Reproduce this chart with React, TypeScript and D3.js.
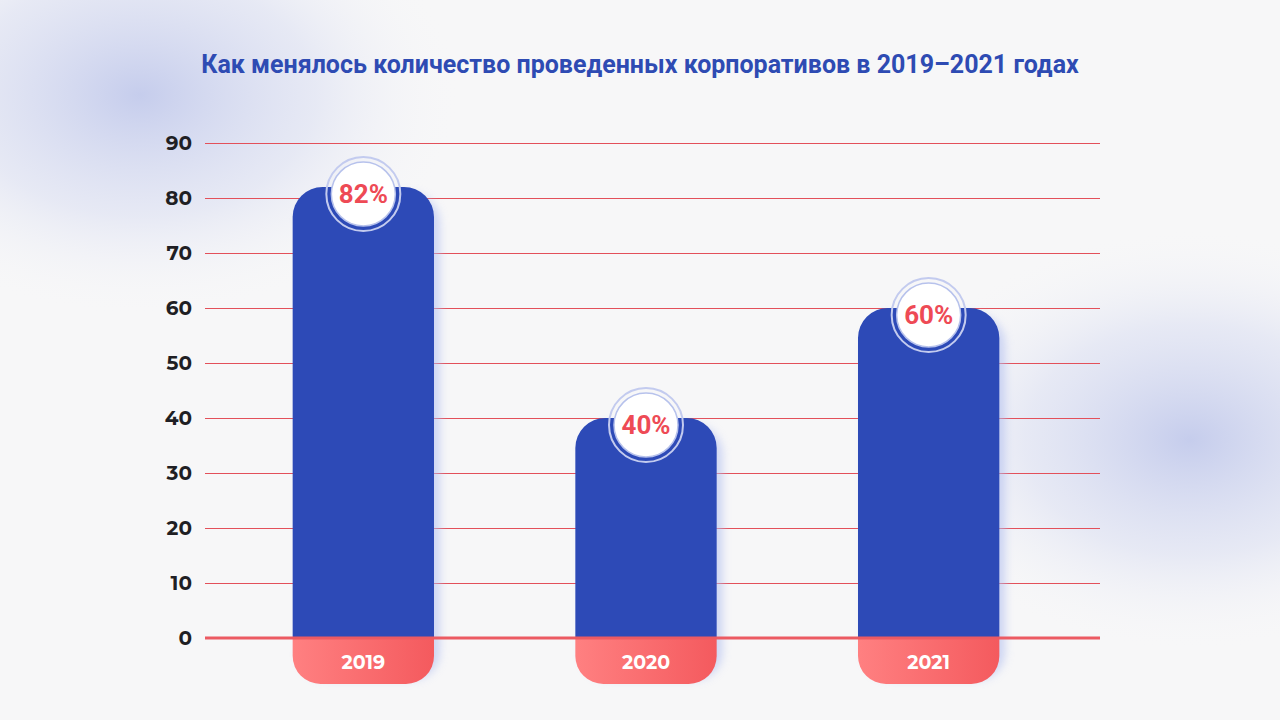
// @ts-nocheck
import React, { useEffect, useRef } from "react";
import * as d3 from "d3";

const years = ["2019", "2020", "2021"];
const values = [82, 40, 60];
const labels = ["82%", "40%", "60%"];
const yTicks = [0, 10, 20, 30, 40, 50, 60, 70, 80, 90];
const title = "Как менялось количество проведенных корпоративов в 2019–2021 годах";

const W = 1280;
const H = 720;

const Chart = () => {
  const svgRef = useRef();

  useEffect(() => {
    const svg = d3.select(svgRef.current);
    svg.selectAll("*").remove();

    const defs = svg.append("defs");

    // soft background blobs
    const blob = defs.append("radialGradient").attr("id", "blob");
    blob.append("stop").attr("offset", "0%").attr("stop-color", "#c0c8eb").attr("stop-opacity", 0.9);
    blob.append("stop").attr("offset", "55%").attr("stop-color", "#d6dbf1").attr("stop-opacity", 0.5);
    blob.append("stop").attr("offset", "100%").attr("stop-color", "#f7f7f8").attr("stop-opacity", 0);

    const pill = defs.append("linearGradient").attr("id", "pill");
    pill.append("stop").attr("offset", "0%").attr("stop-color", "#ff8081");
    pill.append("stop").attr("offset", "100%").attr("stop-color", "#f45a5e");

    const shadow = defs
      .append("filter")
      .attr("id", "shadow")
      .attr("x", "-30%")
      .attr("y", "-30%")
      .attr("width", "160%")
      .attr("height", "160%");
    shadow.append("feGaussianBlur").attr("stdDeviation", 4);

    svg.append("rect").attr("width", W).attr("height", H).attr("fill", "#f7f7f8");
    svg
      .append("ellipse")
      .attr("cx", 140)
      .attr("cy", 95)
      .attr("rx", 320)
      .attr("ry", 220)
      .attr("fill", "url(#blob)");
    svg
      .append("ellipse")
      .attr("cx", 1190)
      .attr("cy", 440)
      .attr("rx", 300)
      .attr("ry", 210)
      .attr("fill", "url(#blob)");

    svg
      .append("text")
      .attr("x", 640)
      .attr("y", 73)
      .attr("text-anchor", "middle")
      .style("font-family", "Roboto, sans-serif")
      .style("font-weight", 700)
      .style("font-size", "25px")
      .style("fill", "#2e4bb3")
      .text(title);

    const left = 205;
    const right = 1100;
    const y = d3.scaleLinear().domain([0, 90]).range([638, 143]);
    const x = d3
      .scaleBand()
      .domain(years)
      .range([222, 1070])
      .paddingInner(0.5)
      .paddingOuter(0.25);

    // gridlines
    svg
      .append("g")
      .selectAll("line")
      .data(yTicks.filter((d) => d > 0))
      .enter()
      .append("line")
      .attr("x1", left)
      .attr("x2", right)
      .attr("y1", (d) => Math.round(y(d)) + 0.5)
      .attr("y2", (d) => Math.round(y(d)) + 0.5)
      .attr("stroke", "#e3505a")
      .attr("stroke-width", 1);

    svg
      .append("g")
      .selectAll("text")
      .data(yTicks)
      .enter()
      .append("text")
      .attr("x", 192)
      .attr("y", (d) => y(d))
      .attr("dy", "0.36em")
      .attr("text-anchor", "end")
      .style("font-family", "Montserrat, 'Open Sans', sans-serif")
      .style("font-weight", 700)
      .style("font-size", "20px")
      .style("fill", "#1f1f24")
      .text((d) => d);

    const data = years.map((yr, i) => ({ yr, v: values[i], label: labels[i] }));
    const bw = x.bandwidth();
    const r = 30;
    const y0 = y(0);
    const pillH = 46;
    const pr = 28;

    const topPath = (x0, top, bottom) =>
      `M${x0},${bottom} V${top + r} A${r},${r} 0 0 1 ${x0 + r},${top} H${x0 + bw - r} A${r},${r} 0 0 1 ${x0 + bw},${top + r} V${bottom}`;
    const barPath = (x0, top) => `${topPath(x0, top, y0)} Z`;
    const pillPath = (x0) =>
      `M${x0},${y0} H${x0 + bw} V${y0 + pillH - pr} A${pr},${pr} 0 0 1 ${x0 + bw - pr},${y0 + pillH} H${x0 + pr} A${pr},${pr} 0 0 1 ${x0},${y0 + pillH - pr} Z`;

    const g = svg.append("g");

    // shadows, offset to the right
    g.selectAll(".sh")
      .data(data)
      .enter()
      .append("path")
      .attr("d", (d) => {
        const x0 = x(d.yr) + 6;
        const top = y(d.v) + 6;
        const b = y0 + pillH - 4;
        return `M${x0},${b - pr} V${top + r} A${r},${r} 0 0 1 ${x0 + r},${top} H${x0 + bw - r} A${r},${r} 0 0 1 ${x0 + bw},${top + r} V${b - pr} A${pr},${pr} 0 0 1 ${x0 + bw - pr},${b} H${x0 + pr} A${pr},${pr} 0 0 1 ${x0},${b - pr} Z`;
      })
      .attr("fill", "#b3c0f0")
      .attr("opacity", 0.6)
      .attr("filter", "url(#shadow)");

    g.selectAll(".bar")
      .data(data)
      .enter()
      .append("path")
      .attr("d", (d) => barPath(x(d.yr), y(d.v)))
      .attr("fill", "#2d4ab7");

    g.selectAll(".pill")
      .data(data)
      .enter()
      .append("path")
      .attr("d", (d) => pillPath(x(d.yr)))
      .attr("fill", "url(#pill)");

    // zero line
    svg
      .append("line")
      .attr("x1", left)
      .attr("x2", right)
      .attr("y1", y0)
      .attr("y2", y0)
      .attr("stroke", "#ec5a62")
      .attr("stroke-width", 3);

    g.selectAll(".yr")
      .data(data)
      .enter()
      .append("text")
      .attr("x", (d) => x(d.yr) + bw / 2)
      .attr("y", y0 + 24)
      .attr("dy", "0.36em")
      .attr("text-anchor", "middle")
      .style("font-family", "Montserrat, 'Open Sans', sans-serif")
      .style("font-weight", 700)
      .style("font-size", "19px")
      .style("fill", "#ffffff")
      .text((d) => d.yr);

    const badge = g
      .selectAll(".badge")
      .data(data)
      .enter()
      .append("g")
      .attr("transform", (d) => `translate(${x(d.yr) + bw / 2},${y(d.v) + 7})`);

    badge
      .append("circle")
      .attr("r", 37)
      .attr("fill", "none")
      .attr("stroke", "#c3cbef")
      .attr("stroke-width", 2);
    badge
      .append("circle")
      .attr("r", 32)
      .attr("fill", "#ffffff")
      .attr("stroke", "#b7c2ec")
      .attr("stroke-width", 1.5);
    badge
      .append("text")
      .attr("dy", "0.36em")
      .attr("text-anchor", "middle")
      .style("font-family", "Roboto, sans-serif")
      .style("font-weight", 700)
      .style("font-size", "26px")
      .style("fill", "#ee4a55")
      .text((d) => d.label);
  }, []);

  return <svg ref={svgRef} width={W} height={H} style={{ display: "block" }}></svg>;
};

export default function App() {
  useEffect(() => {
    document.body.style.margin = "0";
  }, []);
  return <Chart />;
}
